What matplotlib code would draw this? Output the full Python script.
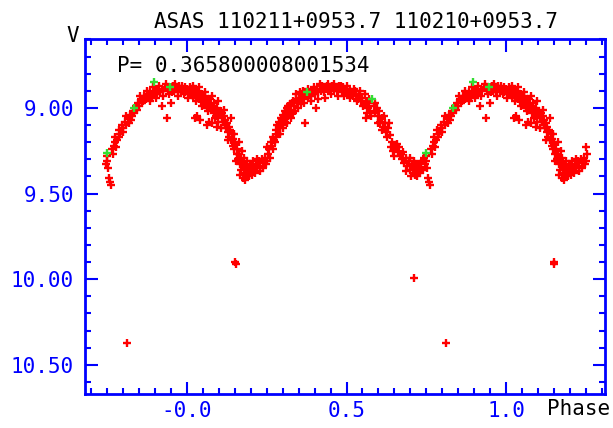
import numpy as np
import matplotlib
matplotlib.use('Agg')
import matplotlib.pyplot as plt
from matplotlib.ticker import MultipleLocator, FixedLocator, FixedFormatter

# base phase (0..1) and V magnitude
phase_red = [
    0.000, 0.005, 0.010, 0.012, 0.015, 0.020, 0.022, 0.025, 0.028, 0.030,
    0.032, 0.035, 0.038, 0.040, 0.042, 0.045, 0.048, 0.050, 0.053, 0.055,
    0.058, 0.060, 0.063, 0.065, 0.068, 0.070, 0.073, 0.075, 0.078, 0.080,
    0.083, 0.085, 0.088, 0.090, 0.093, 0.095, 0.098, 0.100,
    0.103, 0.105, 0.108, 0.110, 0.113, 0.115, 0.118, 0.120, 0.123, 0.125,
    0.128, 0.130, 0.133, 0.135, 0.138, 0.140, 0.143, 0.145, 0.148, 0.150,
    0.155, 0.158, 0.160, 0.163, 0.165, 0.168, 0.170, 0.172, 0.175, 0.178,
    0.180, 0.185, 0.190, 0.195, 0.200, 0.205, 0.210, 0.215, 0.220, 0.225,
    0.230, 0.235, 0.240, 0.245,
    0.250, 0.255, 0.258, 0.262, 0.265, 0.270, 0.273, 0.278, 0.282, 0.285,
    0.288, 0.290, 0.293, 0.296, 0.300, 0.303, 0.306, 0.310, 0.313, 0.316,
    0.320, 0.323, 0.326, 0.330, 0.333, 0.336, 0.340, 0.345, 0.350, 0.355,
    0.360, 0.365, 0.370, 0.372,
    0.380, 0.385, 0.390, 0.395, 0.400, 0.405, 0.408, 0.412, 0.417, 0.420,
    0.425, 0.430, 0.435, 0.440, 0.445, 0.450, 0.455, 0.460, 0.465, 0.470,
    0.475, 0.480, 0.485, 0.490, 0.495, 0.500, 0.505, 0.510, 0.515, 0.520,
    0.525, 0.530,
    0.535, 0.540, 0.545, 0.550, 0.555, 0.560, 0.563, 0.567, 0.570, 0.575,
    0.585, 0.590, 0.595, 0.600, 0.605, 0.610, 0.615, 0.620, 0.625, 0.630,
    0.635, 0.640, 0.645, 0.650, 0.655, 0.660, 0.665, 0.670, 0.675, 0.680,
    0.685, 0.690, 0.695, 0.700, 0.705, 0.708, 0.712, 0.715, 0.718, 0.722,
    0.725, 0.728, 0.732, 0.735, 0.738, 0.742, 0.745, 0.748,
    0.755, 0.758, 0.762, 0.765, 0.770, 0.775, 0.780, 0.785, 0.790, 0.795,
    0.800, 0.805, 0.810, 0.815, 0.820, 0.825, 0.830, 0.840, 0.845, 0.850,
    0.855, 0.860, 0.865, 0.870, 0.875, 0.880, 0.885, 0.890, 0.900, 0.905,
    0.910, 0.915, 0.920, 0.925, 0.930, 0.936, 0.940, 0.950, 0.955, 0.960,
    0.965, 0.970, 0.975, 0.980, 0.985, 0.990, 0.995,
    # second pass, wider scatter
    0.003, 0.018, 0.027, 0.037, 0.047, 0.057, 0.067, 0.077, 0.087, 0.097,
    0.107, 0.117, 0.127, 0.137, 0.147, 0.153, 0.162, 0.167, 0.173, 0.177,
    0.183, 0.188, 0.193, 0.198, 0.203, 0.208, 0.213, 0.218, 0.228, 0.238,
    0.248, 0.252, 0.260, 0.268, 0.275, 0.280, 0.287, 0.292, 0.298, 0.302,
    0.308, 0.312, 0.318, 0.325, 0.332, 0.338, 0.343, 0.348, 0.353, 0.358,
    0.363, 0.368, 0.378, 0.388, 0.398, 0.410, 0.422, 0.432, 0.442, 0.452,
    0.462, 0.472, 0.482, 0.492, 0.502, 0.512, 0.522, 0.532, 0.542, 0.552,
    0.558, 0.565, 0.572, 0.578, 0.588, 0.598, 0.603, 0.612, 0.618, 0.628,
    0.633, 0.642, 0.648, 0.658, 0.668, 0.678, 0.688, 0.698, 0.703, 0.710,
    0.720, 0.730, 0.740, 0.750, 0.752, 0.768, 0.773, 0.778, 0.788, 0.798,
    0.808, 0.818, 0.828, 0.835, 0.843, 0.853, 0.863, 0.873, 0.883, 0.893,
    0.903, 0.913, 0.923, 0.933, 0.943, 0.953, 0.963, 0.973, 0.983, 0.993,
    0.062, 0.095, 0.025,
    # outliers
    0.150, 0.152, 0.712, 0.812,
]
mag_red = [
    8.89, 8.91, 8.88, 8.92, 8.90, 8.93, 8.89, 8.91, 8.94, 9.05,
    8.92, 8.90, 8.95, 8.93, 9.07, 8.96, 8.92, 8.94, 8.98, 8.93,
    8.97, 8.95, 9.00, 8.96, 9.08, 8.98, 8.95, 9.01, 9.09, 8.99,
    9.03, 8.97, 9.02, 9.05, 9.00, 9.04, 9.08, 9.02,
    9.04, 9.02, 9.06, 9.03, 9.08, 9.05, 9.10, 9.07, 9.12, 9.09,
    9.14, 9.11, 9.17, 9.13, 9.19, 9.15, 9.22, 9.18, 9.24, 9.21,
    9.27, 9.24, 9.30, 9.27, 9.33, 9.30, 9.36, 9.32, 9.41, 9.34,
    9.38, 9.35, 9.39, 9.36, 9.37, 9.34, 9.36, 9.33, 9.35, 9.31,
    9.34, 9.30, 9.32, 9.29,
    9.31, 9.27, 9.24, 9.20, 9.22, 9.17, 9.19, 9.13, 9.10, 9.15,
    9.08, 9.12, 9.06, 9.09, 9.04, 9.07, 9.02, 9.05, 9.00, 8.99,
    9.03, 8.98, 9.01, 8.97, 8.96, 8.99, 8.95, 8.97, 8.94, 8.96,
    8.93, 8.95, 9.09, 8.92,
    8.94, 8.91, 8.93, 8.90, 8.92, 9.00, 8.89, 8.91, 8.86, 8.90,
    8.88, 8.91, 8.89, 8.87, 8.90, 8.88, 8.87, 8.89, 8.88, 8.90,
    8.87, 8.89, 8.91, 8.88, 8.90, 8.89, 8.92, 8.90, 8.91, 8.93,
    8.90, 8.92,
    8.95, 8.93, 8.96, 8.94, 8.98, 9.06, 8.96, 9.00, 8.97, 9.02,
    8.99, 9.03, 9.00, 9.05, 9.08, 9.06, 9.11, 9.09, 9.14, 9.12,
    9.16, 9.23, 9.25, 9.22, 9.24, 9.26, 9.23, 9.27, 9.30, 9.32,
    9.29, 9.34, 9.31, 9.36, 9.33, 9.38, 9.35, 9.39, 9.34, 9.37,
    9.33, 9.36, 9.32, 9.35, 9.31, 9.29, 9.33, 9.28,
    9.41, 9.43, 9.45, 9.24, 9.22, 9.17, 9.19, 9.13, 9.15, 9.10,
    9.12, 9.08, 9.10, 9.06, 9.04, 9.07, 9.02, 8.99, 8.97, 8.99,
    8.95, 8.97, 8.93, 8.95, 8.92, 8.94, 8.91, 8.93, 8.90, 8.92,
    8.89, 8.91, 8.99, 8.90, 8.88, 9.06, 8.89, 8.97, 8.87, 8.90,
    8.88, 8.91, 8.87, 8.90, 8.89, 8.92, 8.88,
    8.94, 8.87, 8.96, 8.88, 8.99, 8.91, 9.02, 8.93, 9.06, 8.96,
    9.12, 9.01, 9.19, 9.06, 9.15, 9.31, 9.20, 9.39, 9.25, 9.29,
    9.42, 9.31, 9.40, 9.33, 9.39, 9.31, 9.38, 9.30, 9.37, 9.35,
    9.33, 9.23, 9.29, 9.24, 9.20, 9.17, 9.11, 9.15, 9.10, 9.12,
    9.08, 9.09, 9.05, 9.06, 9.03, 9.02, 8.92, 9.00, 8.91, 8.98,
    8.90, 8.97, 8.89, 8.96, 8.88, 8.95, 8.87, 8.94, 8.86, 8.92,
    8.86, 8.93, 8.87, 8.93, 8.87, 8.94, 8.89, 8.96, 8.90, 8.99,
    8.92, 9.03, 8.95, 9.05, 8.97, 9.09, 9.02, 9.13, 9.05, 9.17,
    9.09, 9.20, 9.28, 9.21, 9.28, 9.26, 9.37, 9.29, 9.40, 9.31,
    9.40, 9.38, 9.36, 9.31, 9.35, 9.27, 9.20, 9.23, 9.17, 9.14,
    9.05, 9.09, 9.05, 9.03, 9.01, 8.93, 8.96, 8.90, 8.96, 8.88,
    8.94, 8.87, 8.93, 8.86, 8.92, 8.91, 8.86, 8.93, 8.87, 8.91,
    9.10, 9.11, 9.06,
    9.90, 9.91, 9.99, 10.37,
]
phase_green = [0.375, 0.581, 0.750, 0.835, 0.896, 0.947]
mag_green = [8.91, 8.95, 9.265, 9.00, 8.85, 8.877]

title = "ASAS 110211+0953.7 110210+0953.7"
period_text = "P= 0.365800008001534"
xticks = [0.0, 0.5, 1.0]
xticklabels = ["-0.0", "0.5", "1.0"]
yticks = [9.0, 9.5, 10.0, 10.5]
yticklabels = ["9.00", "9.50", "10.00", "10.50"]

BLUE = '#0000ff'
FONT = 'DejaVu Sans Mono'
FS = 15


def wrap(ph, mg, lo=-0.255, hi=1.255):
    # phased light curve is drawn over 1.5 cycles
    ph = np.asarray(ph)
    mg = np.asarray(mg)
    xs, ys = [], []
    for shift in (-1, 0, 1):
        p = ph + shift
        keep = (p >= lo) & (p <= hi)
        xs.append(p[keep])
        ys.append(mg[keep])
    return np.concatenate(xs), np.concatenate(ys)


fig = plt.figure(figsize=(6.13, 4.28), dpi=100)
ax = fig.add_axes([0.1387, 0.0794, 0.848, 0.8286])

xr, yr = wrap(phase_red, mag_red)
xg, yg = wrap(phase_green, mag_green)
ax.plot(xr, yr, '+', color='#ff0000', ms=6, mew=1.7, linestyle='none')
ax.plot(xg, yg, '+', color='#33dd33', ms=6, mew=1.7, linestyle='none')

ax.set_xlim(-0.32, 1.31)
ax.set_ylim(10.67, 8.60)

ax.xaxis.set_major_locator(FixedLocator(xticks))
ax.xaxis.set_major_formatter(FixedFormatter(xticklabels))
ax.xaxis.set_minor_locator(MultipleLocator(0.05))
ax.yaxis.set_major_locator(FixedLocator(yticks))
ax.yaxis.set_major_formatter(FixedFormatter(yticklabels))
ax.yaxis.set_minor_locator(MultipleLocator(0.1))

for s in ax.spines.values():
    s.set_color(BLUE)
    s.set_linewidth(2)

ax.tick_params(which='both', direction='in', top=True, right=True,
               color=BLUE, width=1.5, labelcolor=BLUE, labelsize=FS)
ax.tick_params(which='major', length=9)
ax.tick_params(which='minor', length=4.5)
ax.tick_params(axis='y', pad=8)
ax.tick_params(axis='x', pad=5)
for lab in ax.get_xticklabels() + ax.get_yticklabels():
    lab.set_fontfamily(FONT)

fig.text(0.580, 0.9346, title, ha='center', va='baseline',
         fontsize=FS, family=FONT, color='black')
fig.text(0.118, 0.902, "V", ha='center', va='baseline',
         fontsize=FS, family=FONT, color='black')
ax.text(0.0615, 0.908, period_text, transform=ax.transAxes, ha='left',
        va='baseline', fontsize=FS, family=FONT, color='black')
fig.text(0.944, 0.030, "Phase", ha='center', va='baseline',
         fontsize=FS, family=FONT, color='black')

fig.savefig('out.png', dpi=100)
